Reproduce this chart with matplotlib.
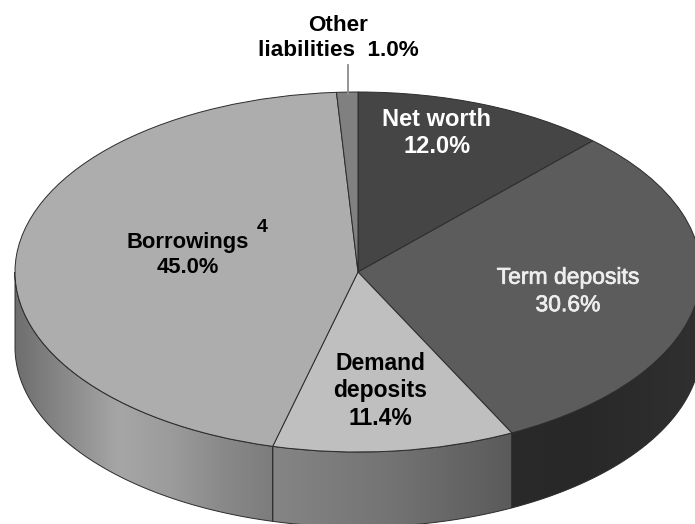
import numpy as np
import matplotlib
matplotlib.use('Agg')
import matplotlib.pyplot as plt
import matplotlib.patheffects as pe
from matplotlib.colors import LinearSegmentedColormap
from matplotlib.patches import Polygon

plt.rcParams['font.family'] = ['Liberation Sans', 'DejaVu Sans']

# Slices, clockwise from the top
labels = ['Net worth', 'Term deposits', 'Demand deposits', 'Borrowings', 'Other liabilities']
values = [12.0, 30.6, 11.4, 45.0, 1.0]
top_colors = ['#454545', '#5c5c5c', '#bfbfbf', '#adadad', '#808080']

# Shading along the rim, left to right for each visible slice
side_shades = {
    1: ['#2a2a2a', '#282828', '#2c2c2c', '#303030'],
    2: ['#858585', '#737373', '#5a5a5a'],
    3: ['#6e6e6e', '#8a8a8a', '#a6a6a6', '#9c9c9c', '#8a8a8a', '#7c7c7c'],
}

W, H = 695, 524
cx, cy = 358, 272
rx, ry = 343, 180
depth = 75 / ry

fig = plt.figure(figsize=(W / 100, H / 100), dpi=100)
ax = fig.add_axes([0, 0, 1, 1])

wedges, _ = ax.pie(values, colors=top_colors, startangle=90, counterclock=False, radius=1,
                   wedgeprops={'edgecolor': '#2b2b2b', 'linewidth': 0.7, 'zorder': 5})


def px(x, y):
    # reference pixels to axes data units (the pie has radius 1)
    return (x - cx) / rx, (cy - y) / ry


# Rim, only the front half of the pie shows
edges = 90 - np.cumsum([0] + values) * 3.6
for i, shades in side_shades.items():
    a0 = min(edges[i], 0)
    a1 = max(edges[i + 1], -180)
    t = np.radians(np.linspace(a1, a0, 200))
    xs, ys = np.cos(t), np.sin(t)
    pts = np.r_[np.c_[xs, ys], np.c_[xs[::-1], ys[::-1] - depth]]
    poly = Polygon(pts, closed=True, fc='none', ec='#2b2b2b', lw=0.7, zorder=3)
    ax.add_patch(poly)
    cmap = LinearSegmentedColormap.from_list('rim%d' % i, shades)
    im = ax.imshow(np.linspace(0, 1, 256)[None, :], cmap=cmap, aspect='auto', zorder=2,
                   extent=[xs.min(), xs.max(), ys.min() - depth, ys.max()])
    im.set_clip_path(poly)

x0, y1 = px(0, 0)
x1, y0 = px(W, H)
ax.set_xlim(x0, x1)
ax.set_ylim(y0, y1)
ax.set_aspect('auto')
ax.axis('off')

# Leader line for the thin slice
ax.plot(*zip(px(348, 65), px(348, 94)), color='#8c8c8c', lw=1.3, zorder=6)


def label(x, y, s, color='black', weight='bold', size=16.5):
    t = ax.text(*px(x, y), s, color=color, fontsize=size, fontweight=weight, ha='center',
                va='center', linespacing=1.25, zorder=7)
    return t


label(338, 38, 'Other\nliabilities  1.0%', size=16.2)
label(437, 133, 'Net worth\n12.0%', color='white', size=17)
t = label(568, 291, 'Term deposits\n30.6%', color='#eeeeee', weight='normal')
t.set_path_effects([pe.withStroke(linewidth=0.5, foreground='#eeeeee')])
label(380, 391, 'Demand\ndeposits\n11.4%')
label(188, 255, 'Borrowings\n45.0%', size=15.8)
ax.text(*px(262, 228), '4', fontsize=14, fontweight='bold', ha='center', va='center', zorder=7)

fig.savefig('out.png', dpi=100)
